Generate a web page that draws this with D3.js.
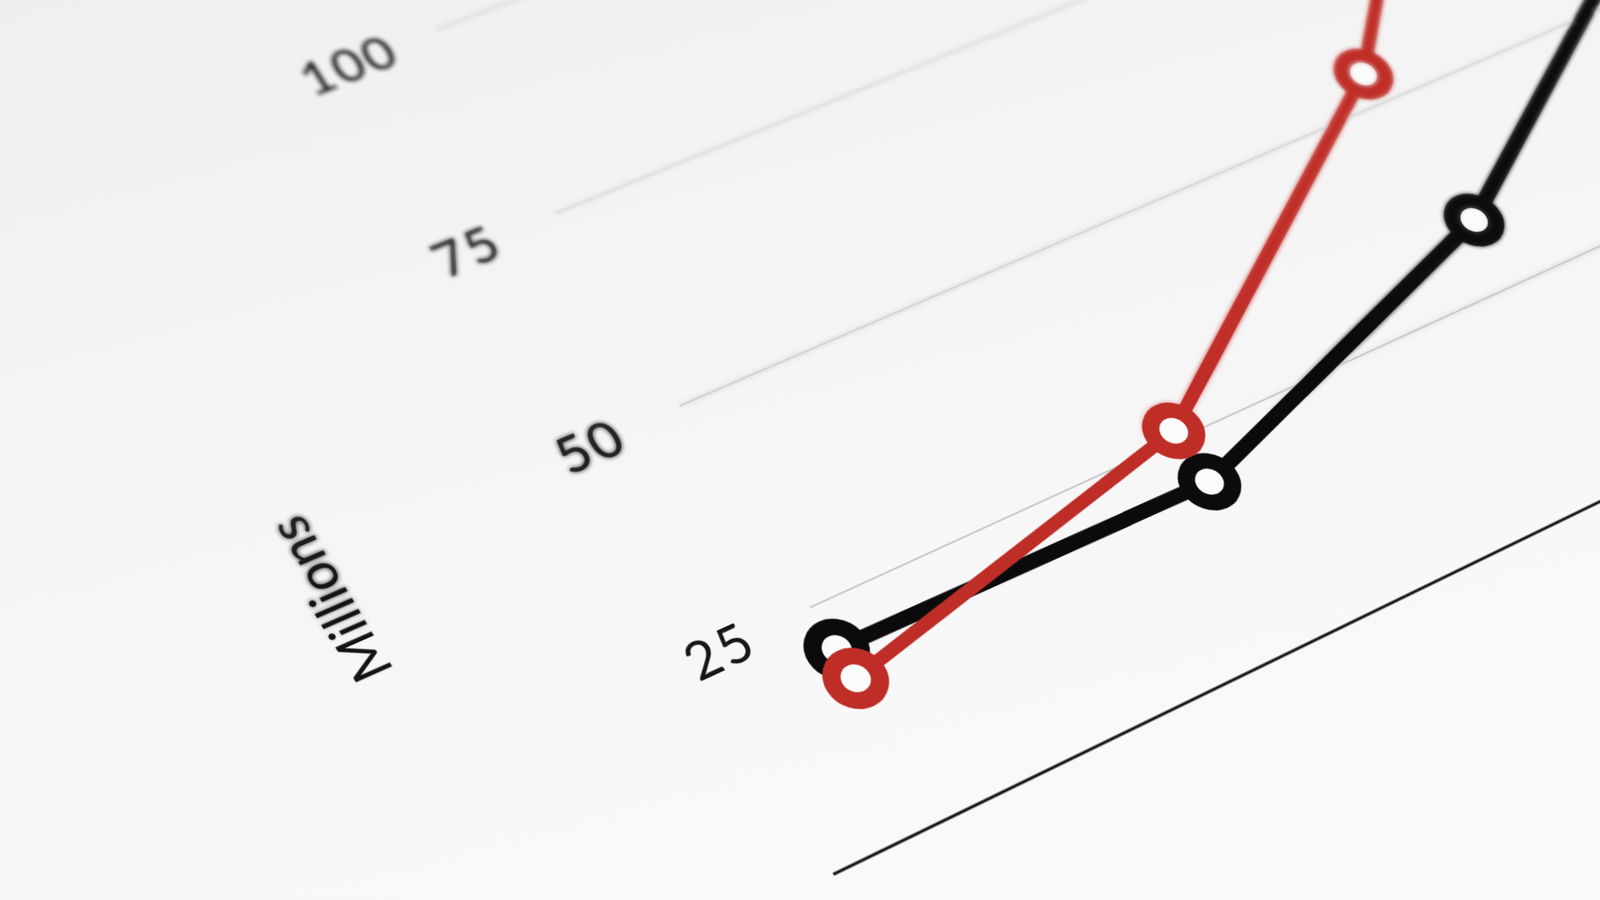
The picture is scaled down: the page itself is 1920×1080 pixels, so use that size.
<!DOCTYPE html>
<html><head><meta charset="utf-8">
<script src="https://cdn.jsdelivr.net/npm/d3@7"></script>
<style>
html,body{margin:0;padding:0;width:1920px;height:1080px;overflow:hidden;}
body{background:linear-gradient(165deg,#efefef 0%,#f4f4f4 35%,#f8f8f8 70%,#fafafa 100%);}
#chart{position:absolute;left:0;top:0;transform-origin:0 0;overflow:visible;}
</style></head><body>
<svg id="chart"></svg>
<script>
// ---- data ----
const categories = ["P1", "P2", "P3", "P4"];
const blackValues = [20, 19.5, 33.5, 60];
const redValues = [16.5, 26, 54, 100];
const yTicks = [25, 50, 75, 100];
const yLabel = "Millions";

// ---- flat chart layout ----
const W = 2600, H = 1700;
const plotLeft = 570, plotRight = 2600;
const x = d3.scalePoint().domain(categories).range([700, 2050]);
const y = d3.scaleLinear().domain([0, 100]).range([1500, 500]);

const svg = d3.select("#chart").attr("width", W).attr("height", H);
const defs = svg.append("defs");

// depth-of-field: far (upper / right) part of the page is out of focus
defs.append("filter").attr("id", "blurF")
  .attr("filterUnits", "userSpaceOnUse").attr("x", 0).attr("y", 0).attr("width", W).attr("height", H)
  .append("feGaussianBlur").attr("stdDeviation", 2.6);
const p0 = [700, 1100], dv = [78.5, -435.9];            // focus ramp: depth 0 at p0, 1 at p0+dv
function ramp(id, t0, t1, c0, c1) {
  const g = defs.append("linearGradient").attr("id", id).attr("gradientUnits", "userSpaceOnUse")
    .attr("x1", p0[0] + dv[0] * t0).attr("y1", p0[1] + dv[1] * t0)
    .attr("x2", p0[0] + dv[0] * t1).attr("y2", p0[1] + dv[1] * t1);
  g.append("stop").attr("offset", 0).attr("stop-color", c0);
  g.append("stop").attr("offset", 1).attr("stop-color", c1);
  defs.append("mask").attr("id", "m" + id).attr("maskUnits", "userSpaceOnUse")
    .attr("x", 0).attr("y", 0).attr("width", W).attr("height", H)
    .append("rect").attr("width", W).attr("height", H).attr("fill", `url(#${id})`);
}
ramp("gSharp", 0, 1, "white", "black");
ramp("gBlur", -0.15, 0, "black", "white");

const content = defs.append("g").attr("id", "content");

// gridlines
content.selectAll("line.grid").data(yTicks).join("line")
  .attr("x1", x(categories[0])).attr("x2", plotRight)
  .attr("y1", d => y(d)).attr("y2", d => y(d))
  .attr("stroke", "#cbcbcb").attr("stroke-width", 2.2);

// baseline
content.append("line")
  .attr("x1", plotLeft).attr("x2", plotRight)
  .attr("y1", y(0)).attr("y2", y(0))
  .attr("stroke", "#16161d").attr("stroke-width", 3.2);

// tick labels
content.selectAll("text.tick").data(yTicks).join("text")
  .attr("x", x(categories[0]) - 106).attr("y", d => y(d))
  .attr("text-anchor", "middle").attr("dominant-baseline", "central")
  .attr("font-family", "Lato, 'Noto Sans', sans-serif").attr("font-size", 57)
  .attr("letter-spacing", 3)
  .attr("fill", "#161616").text(d => d);

// axis title
content.append("text")
  .attr("transform", `translate(${x(categories[0]) - 424},${y(46)}) rotate(-90)`)
  .attr("text-anchor", "middle").attr("dominant-baseline", "central")
  .attr("font-family", "Lato, 'Noto Sans', sans-serif").attr("font-size", 55)
  .attr("fill", "#141414").text(yLabel);

// series
const series = [
  { values: blackValues, color: "#0b0b0d", width: 16 },
  { values: redValues, color: "#bf2d27", width: 14 }
];
const line = d3.line().x((d, i) => x(categories[i])).y(d => y(d));
series.forEach(s => {
  const g = content.append("g");
  g.append("path").attr("d", line(s.values)).attr("fill", "none")
    .attr("stroke", s.color).attr("stroke-width", s.width).attr("stroke-linejoin", "round");
  g.selectAll("circle").data(s.values).join("circle")
    .attr("cx", (d, i) => x(categories[i])).attr("cy", d => y(d))
    .attr("r", 24).attr("fill", "#fbfbfb")
    .attr("stroke", s.color).attr("stroke-width", 18);
});

svg.append("use").attr("href", "#content").attr("filter", "url(#blurF)").attr("mask", "url(#mgBlur)");
svg.append("use").attr("href", "#content").attr("mask", "url(#mgSharp)");

// ---- camera (photo perspective): flat chart -> page ----
const c0 = categories[0], c1 = categories[1], c2 = categories[2];
const anchors = [
  [[x(c0), y(0)], [1139, 986]],
  [[x(c0), y(25)], [972, 727]],
  [[x(c0), y(50)], [817, 487]],
  [[x(c0), y(75)], [667, 257]],
  [[x(c0), y(100)], [523, 34]],
  [[x(c1), y(25)], [1407, 526]],
  [[x(c2), y(25)], [1827, 333]],
  [[x(c2), y(50)], [1664, 128]]
];
function normT(pts) {
  const mx = d3.mean(pts, p => p[0]), my = d3.mean(pts, p => p[1]), s = 1 / 500;
  return { T: [[s, 0, -s * mx], [0, s, -s * my], [0, 0, 1]], Ti: [[1 / s, 0, mx], [0, 1 / s, my], [0, 0, 1]],
    f: p => [(p[0] - mx) * s, (p[1] - my) * s] };
}
function mul(A, B) { return A.map((r, i) => B[0].map((_, j) => r.reduce((acc, v, k) => acc + v * B[k][j], 0))); }
function homography(src, dst) {
  const ns = normT(src), nd = normT(dst);
  const rows = [], rhs = [];
  src.forEach((p, i) => {
    const [sx, sy] = ns.f(p), [X, Y] = nd.f(dst[i]);
    rows.push([sx, sy, 1, 0, 0, 0, -sx * X, -sy * X]); rhs.push(X);
    rows.push([0, 0, 0, sx, sy, 1, -sx * Y, -sy * Y]); rhs.push(Y);
  });
  const n = 8, M = Array.from({ length: n }, () => new Array(n + 1).fill(0));
  rows.forEach((r, k) => { for (let i = 0; i < n; i++) { for (let j = 0; j < n; j++) M[i][j] += r[i] * r[j]; M[i][n] += r[i] * rhs[k]; } });
  for (let c = 0; c < n; c++) {
    let p = c; for (let r = c + 1; r < n; r++) if (Math.abs(M[r][c]) > Math.abs(M[p][c])) p = r;
    [M[c], M[p]] = [M[p], M[c]];
    for (let r = 0; r < n; r++) { if (r === c) continue; const f = M[r][c] / M[c][c]; for (let k = c; k <= n; k++) M[r][k] -= f * M[c][k]; }
  }
  const h = M.map((r, i) => r[n] / r[i]);
  const Hn = [[h[0], h[1], h[2]], [h[3], h[4], h[5]], [h[6], h[7], 1]];
  let Hm = mul(nd.Ti, mul(Hn, ns.T));
  const z = Hm[2][2];
  return Hm.map(r => r.map(v => v / z));
}
const Hm = homography(anchors.map(a => a[0]), anchors.map(a => a[1]));
const [[a, b, c], [d, e, f], [g, h, i]] = Hm;
d3.select("#chart").style("transform", `matrix3d(${a},${d},0,${g},${b},${e},0,${h},0,0,1,0,${c},${f},0,${i})`);
</script>
</body></html>
